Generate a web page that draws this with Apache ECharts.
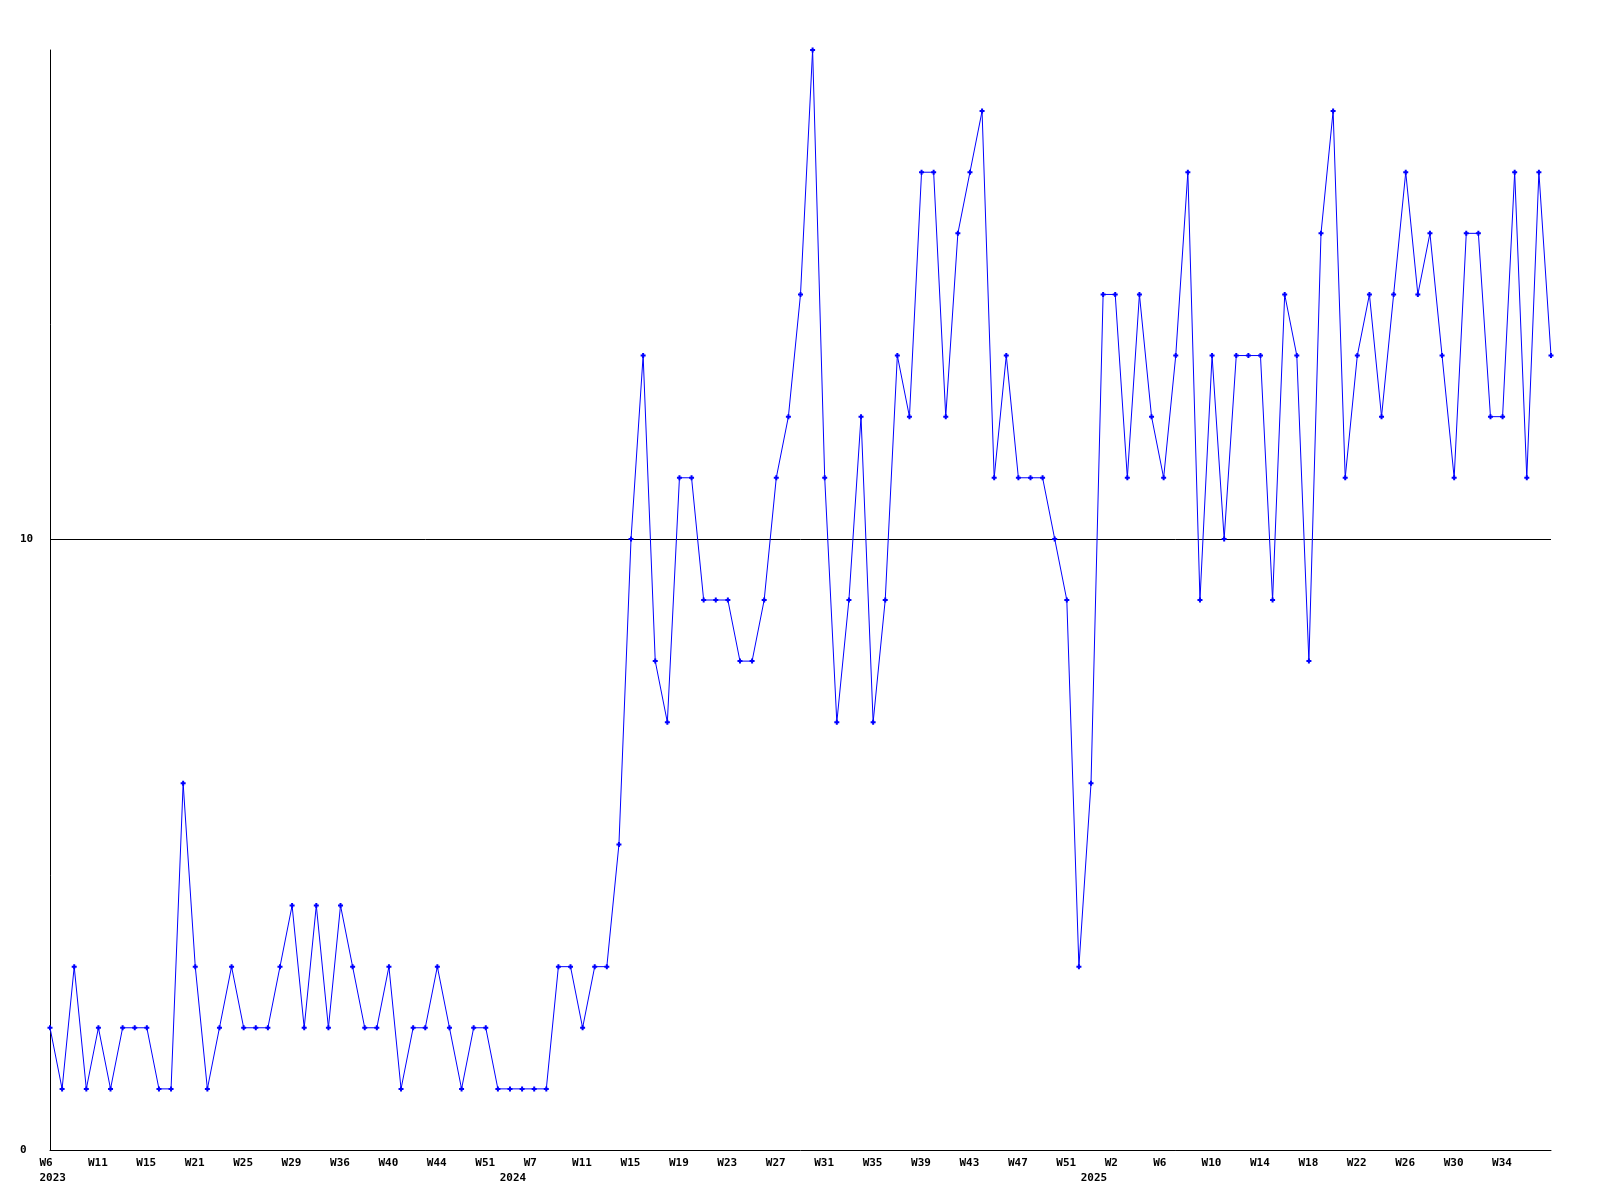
<!DOCTYPE html>
<html>
<head>
<meta charset="utf-8">
<script src="https://cdn.jsdelivr.net/npm/echarts@6/dist/echarts.min.js"></script>
<style>html,body{margin:0;padding:0;background:#fff}#c{width:1600px;height:1200px}</style>
</head>
<body>
<div id="c"></div>
<script>
// categories: year-week of each sample (some weeks missing in 2023/early 2024)
const weeks = [
  '2023-W6','2023-W7','2023-W8','2023-W10','2023-W11','2023-W12','2023-W13','2023-W14',
  '2023-W15','2023-W16','2023-W18','2023-W20','2023-W21','2023-W22','2023-W23','2023-W24',
  '2023-W25','2023-W26','2023-W27','2023-W28','2023-W29','2023-W30','2023-W32','2023-W34',
  '2023-W36','2023-W37','2023-W38','2023-W39','2023-W40','2023-W41','2023-W42','2023-W43',
  '2023-W44','2023-W45','2023-W47','2023-W49','2023-W51','2023-W52','2024-W2','2024-W4',
  '2024-W7','2024-W8','2024-W9','2024-W10','2024-W11','2024-W12','2024-W13','2024-W14',
  '2024-W15','2024-W16','2024-W17','2024-W18','2024-W19','2024-W20','2024-W21','2024-W22',
  '2024-W23','2024-W24','2024-W25','2024-W26','2024-W27','2024-W28','2024-W29','2024-W30',
  '2024-W31','2024-W32','2024-W33','2024-W34','2024-W35','2024-W36','2024-W37','2024-W38',
  '2024-W39','2024-W40','2024-W41','2024-W42','2024-W43','2024-W44','2024-W45','2024-W46',
  '2024-W47','2024-W48','2024-W49','2024-W50','2024-W51','2024-W52','2024-W53','2025-W1',
  '2025-W2','2025-W3','2025-W4','2025-W5','2025-W6','2025-W7','2025-W8','2025-W9',
  '2025-W10','2025-W11','2025-W12','2025-W13','2025-W14','2025-W15','2025-W16','2025-W17',
  '2025-W18','2025-W19','2025-W20','2025-W21','2025-W22','2025-W23','2025-W24','2025-W25',
  '2025-W26','2025-W27','2025-W28','2025-W29','2025-W30','2025-W31','2025-W32','2025-W33',
  '2025-W34','2025-W35','2025-W36','2025-W37','2025-W38'
];
const values = [
  2,1,3,1,2,1,2,2,2,1,
  1,6,3,1,2,3,2,2,2,3,
  4,2,4,2,4,3,2,2,3,1,
  2,2,3,2,1,2,2,1,1,1,
  1,1,3,3,2,3,3,5,10,13,
  8,7,11,11,9,9,9,8,8,9,
  11,12,14,18,11,7,9,12,7,9,
  13,12,16,16,12,15,16,17,11,13,
  11,11,11,10,9,3,6,14,14,11,
  14,12,11,13,16,9,13,10,13,13,
  13,9,14,13,8,15,17,11,13,14,
  12,14,16,14,15,13,11,15,15,12,
  12,16,11,16,13
];
const yMin = 0, yMax = 18, yStep = 10;
const labelIdx = [0,4,8,12,16,20,24,28,32,36,40,44,48,52,56,60,64,68,72,76,80,84,88,92,96,100,104,108,112,116,120];
const yearLabelIdx = [40, 88];

const FONT = 'DejaVu Sans Mono';
const chart = echarts.init(document.getElementById('c'), null, {renderer: 'canvas'});
chart.setOption({
  backgroundColor: '#ffffff',
  animation: false,
  grid: {left: 50, right: 49, top: 50, bottom: 50, containLabel: false},
  xAxis: [{
    type: 'category',
    data: weeks,
    boundaryGap: false,
    axisLine: {show: true, lineStyle: {color: '#000', width: 1}},
    axisTick: {show: false},
    splitLine: {show: false},
    axisLabel: {
      interval: function (i) { return labelIdx.indexOf(i) >= 0; },
      margin: 6,
      color: '#000',
      fontFamily: FONT,
      fontWeight: 'bold',
      fontSize: 11,
      lineHeight: 15,
      formatter: function (v, i) {
        const p = v.split('-');
        let s = '{w|' + p[1] + '}';
        if (i === 0) s += '\n{w|' + p[0] + '}';
        return s;
      },
      rich: {
        w: {width: 21, align: 'left', fontFamily: FONT, fontWeight: 'bold', fontSize: 11, lineHeight: 15, color: '#000'}
      }
    }
  }, {
    type: 'category',
    data: weeks,
    boundaryGap: false,
    position: 'bottom',
    gridIndex: 0,
    axisLine: {show: false},
    axisTick: {show: false},
    splitLine: {show: false},
    axisLabel: {
      interval: function (i) { return yearLabelIdx.indexOf(i) >= 0; },
      margin: 21,
      color: '#000',
      fontFamily: FONT,
      fontWeight: 'bold',
      fontSize: 11,
      lineHeight: 15,
      formatter: function (v) { return '{y|' + v.split('-')[0] + '}'; },
      rich: {
        y: {width: 69, align: 'left', fontFamily: FONT, fontWeight: 'bold', fontSize: 11, lineHeight: 15, color: '#000'}
      }
    }
  }],
  yAxis: {
    type: 'value',
    min: yMin,
    max: yMax,
    interval: yStep,
    axisLine: {show: true, lineStyle: {color: '#000', width: 1}},
    axisTick: {show: false},
    splitLine: {show: true, showMinLine: false, showMaxLine: false, lineStyle: {color: '#000', width: 1}},
    axisLabel: {
      showMaxLabel: false,
      align: 'left',
      margin: 30,
      color: '#000',
      fontFamily: FONT,
      fontWeight: 'bold',
      fontSize: 11
    }
  },
  series: [{
    type: 'line',
    xAxisIndex: 0,
    data: values,
    symbol: 'path://M1.5,0H3.5V1.5H5V3.5H3.5V5H1.5V3.5H0V1.5H1.5Z',
    symbolSize: 5,
    showAllSymbol: true,
    itemStyle: {color: '#0000ff'},
    lineStyle: {color: '#0000ff', width: 1},
    emphasis: {disabled: true}
  }]
});
</script>
</body>
</html>
